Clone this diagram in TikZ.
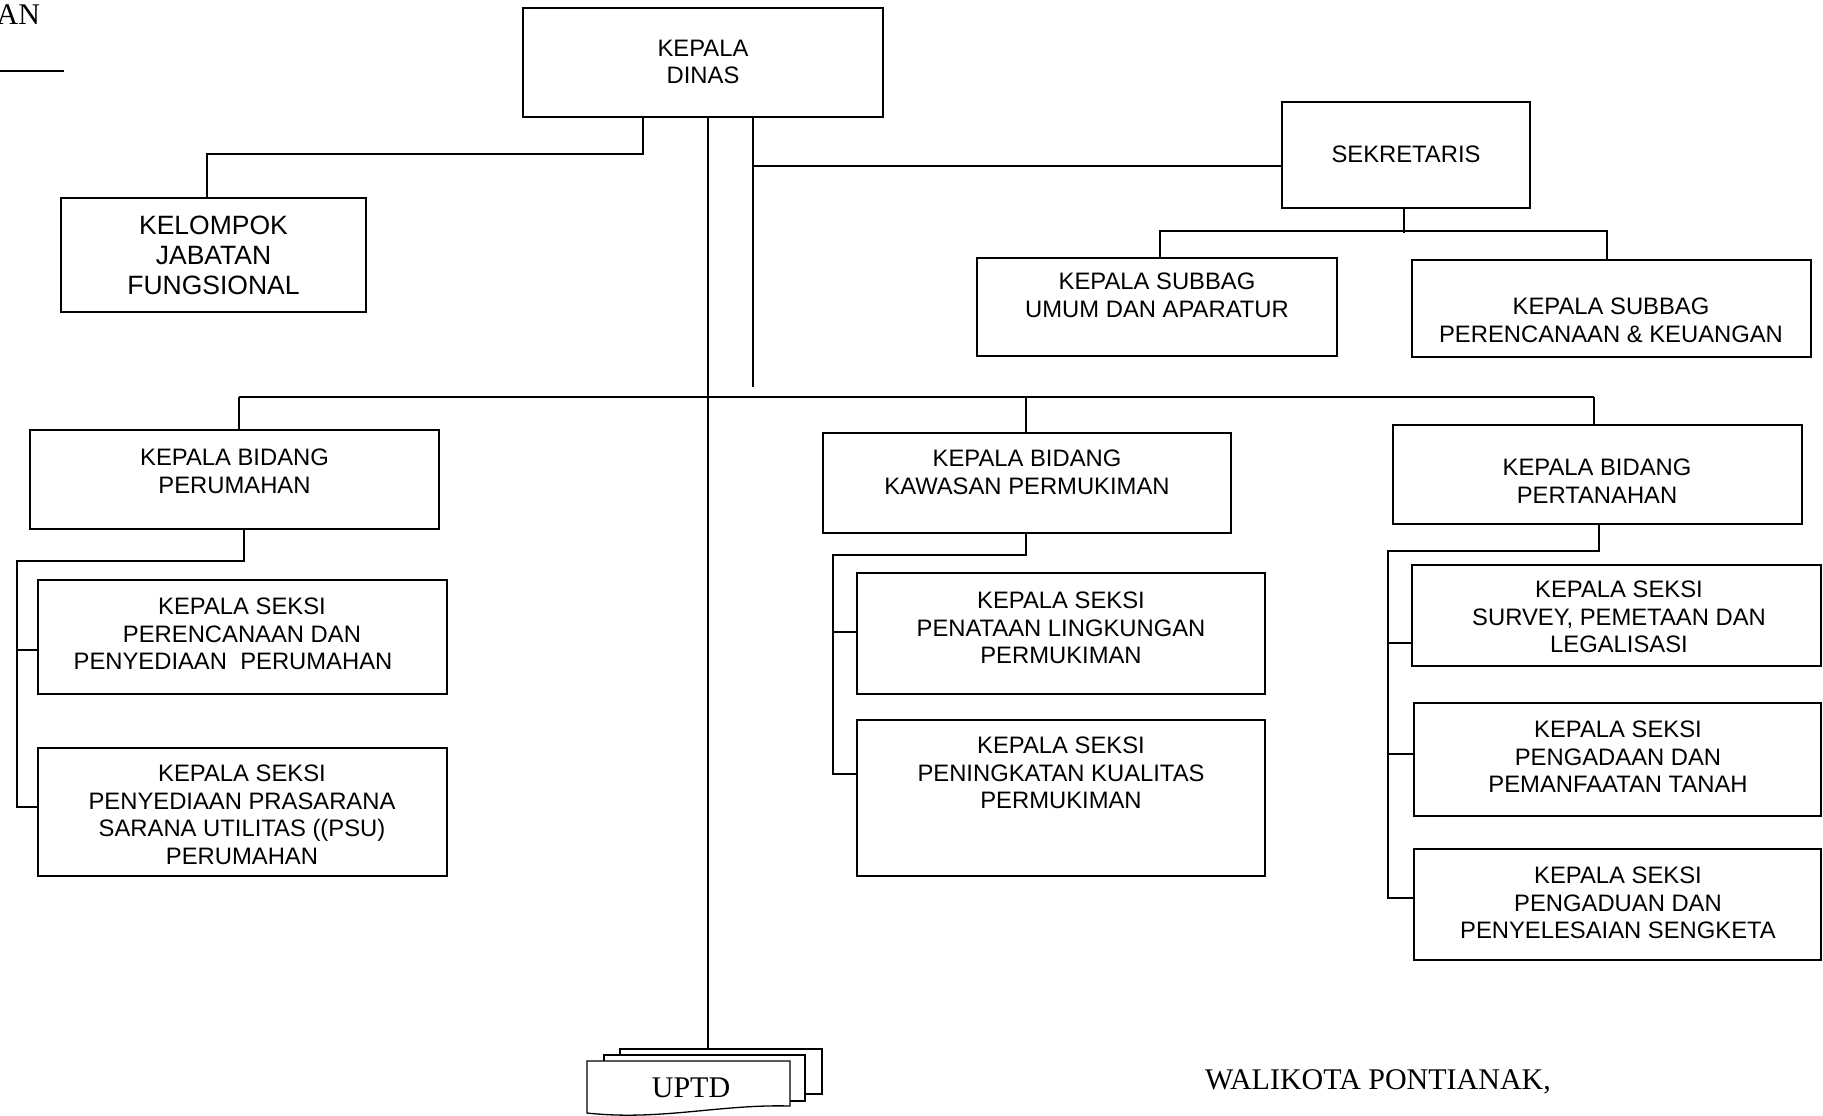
\documentclass[tikz,border=0pt]{standalone}
\usepackage{fontspec}
\setmainfont{Liberation Sans}
\newfontfamily\seriffont{Liberation Serif}
\tikzset{
  box/.style={draw, line width=0.65pt, inner sep=0pt, outer sep=0pt, anchor=north west},
  txt/.style={inner sep=0pt, outer sep=0pt, align=center, anchor=north, font=\fontsize{11.9}{13.75}\selectfont},
  bigtxt/.style={txt, font=\fontsize{13.25}{15}\selectfont},
  sertxt/.style={inner sep=0pt, outer sep=0pt, font=\seriffont\fontsize{15}{18}\selectfont},
  link/.style={line width=0.65pt},
  thinlink/.style={line width=0.6pt},
}
\newcommand\orgbox[5]{\node[box, minimum width={(#4-#2)*0.5pt}, minimum height={(#5-#3)*0.5pt}] (#1) at (#2,#3) {};}
\begin{document}
\begin{tikzpicture}[x=0.5pt, y=-0.5pt]
\useasboundingbox (0,0) rectangle (1823,1115);
% boxes
\orgbox{kd}{523}{8}{883}{117}
\orgbox{kjf}{61}{198}{366}{312}
\orgbox{sek}{1282}{102}{1530}{208}
\orgbox{umum}{977}{258}{1337}{356}
\orgbox{pk}{1412}{260}{1811}{357}
\orgbox{bper}{30}{430}{439}{529}
\orgbox{bkaw}{823}{433}{1231}{533}
\orgbox{bpert}{1393}{425}{1802}{524}
\orgbox{s11}{38}{580}{447}{694}
\orgbox{s12}{38}{748}{447}{876}
\orgbox{s21}{857}{573}{1265}{694}
\orgbox{s22}{857}{720}{1265}{876}
\orgbox{s31}{1412}{565}{1821}{666}
\orgbox{s32}{1414}{703}{1821}{816}
\orgbox{s33}{1414}{849}{1821}{960}
% texts
\node[txt] (kdt) at (703,40) {KEPALA\\DINAS};
\node[bigtxt] (kjft) at (213.5,216) {KELOMPOK\\JABATAN\\FUNGSIONAL};
\node[txt] (sekt) at (1406,146) {SEKRETARIS};
\node[txt] (umumt) at (1157,273) {KEPALA SUBBAG\\UMUM DAN APARATUR};
\node[txt] (pkt) at (1611,298) {KEPALA SUBBAG\\PERENCANAAN \& KEUANGAN};
\node[txt] (bpert-t) at (234.5,449) {KEPALA BIDANG\\PERUMAHAN};
\node[txt] (bkawt) at (1027,450) {KEPALA BIDANG\\KAWASAN PERMUKIMAN};
\node[txt] (bpertt) at (1597,459) {KEPALA BIDANG\\PERTANAHAN};
\node[txt] (s11t) at (242,598) {KEPALA SEKSI\\PERENCANAAN DAN\\PENYEDIAAN\ \ PERUMAHAN\hspace*{9pt}};
\node[txt] (s12t) at (242,765) {KEPALA SEKSI\\PENYEDIAAN PRASARANA\\SARANA UTILITAS ((PSU)\\PERUMAHAN};
\node[txt] (s21t) at (1061,592) {KEPALA SEKSI\\PENATAAN LINGKUNGAN\\PERMUKIMAN};
\node[txt] (s22t) at (1061,737) {KEPALA SEKSI\\PENINGKATAN KUALITAS\\PERMUKIMAN};
\node[txt] (s31t) at (1619,581) {KEPALA SEKSI\\SURVEY, PEMETAAN DAN\\LEGALISASI};
\node[txt] (s32t) at (1618,721) {KEPALA SEKSI\\PENGADAAN DAN\\PEMANFAATAN TANAH};
\node[txt] (s33t) at (1618,867) {KEPALA SEKSI\\PENGADUAN DAN\\PENYELESAIAN SENGKETA};
% UPTD stack
\draw[link, fill=white] (620,1049) rectangle (822,1094);
\draw[link, fill=white] (604,1055) rectangle (805,1101);
\draw[link, fill=white] (587,1061) -- (790,1061) -- (790,1106) .. controls (720,1104) and (660,1121) .. (587,1113) -- cycle;
\node[sertxt, anchor=north] (uptd) at (691,1078) {UPTD};
\coordinate (uptdtop) at (708,1049);
% other texts
\node[sertxt, anchor=north east] (an) at (40,5) {AN};
\coordinate (ul1) at (0,71);
\coordinate (ul2) at (64,71);
\draw[link] (ul1) -- (ul2);
\node[sertxt, anchor=north west] (wali) at (1205,1070) {WALIKOTA PONTIANAK,};
% connectors
\coordinate (kjfx) at (207,0);
\coordinate (c1) at (643,154);
\draw[link] (kd.south -| c1) -- (c1) -| (kjf.north -| kjfx);
\coordinate (cx) at (708,0);
\draw[thinlink] (kd.south -| cx) -- (uptdtop);
\coordinate (c2) at (753,387);
\draw[link] (kd.south -| c2) -- (c2);
\coordinate (c3) at (753,166);
\draw[link] (c3) -- (sek.west |- c3);
\coordinate (c4) at (1404,233);
\draw[thinlink] (sek.south -| c4) -- (c4);
\coordinate (c5) at (1160,231);
\coordinate (c6) at (1607,231);
\draw[link] (umum.north -| c5) -- (c5) -- (c6) -- (pk.north -| c6);
\coordinate (h1) at (239,397);
\coordinate (h2) at (1594,397);
\coordinate (h3) at (1026,397);
\draw[link] (h1) -- (h2);
\draw[thinlink] (h1) -- (bper.north -| h1);
\draw[thinlink] (h3) -- (bkaw.north -| h3);
\draw[thinlink] (h2) -- (bpert.north -| h2);
% perumahan
\coordinate (p1) at (244,561);
\coordinate (p2) at (17,561);
\coordinate (p3) at (17,807);
\coordinate (p4) at (17,650);
\draw[link] (bper.south -| p1) -- (p1) -- (p2) -- (p3) -- (s12.west |- p3);
\draw[link] (p4) -- (s11.west |- p4);
% kawasan
\coordinate (k1) at (1026,555);
\coordinate (k2) at (833,555);
\coordinate (k3) at (833,774);
\coordinate (k4) at (833,632);
\draw[link] (bkaw.south -| k1) -- (k1) -- (k2) -- (k3) -- (s22.west |- k3);
\draw[link] (k4) -- (s21.west |- k4);
% pertanahan
\coordinate (t1) at (1599,551);
\coordinate (t2) at (1388,551);
\coordinate (t3) at (1388,898);
\coordinate (t4) at (1388,643);
\coordinate (t5) at (1388,754);
\draw[link] (bpert.south -| t1) -- (t1) -- (t2) -- (t3) -- (s33.west |- t3);
\draw[link] (t4) -- (s31.west |- t4);
\draw[link] (t5) -- (s32.west |- t5);
\end{tikzpicture}
\end{document}
